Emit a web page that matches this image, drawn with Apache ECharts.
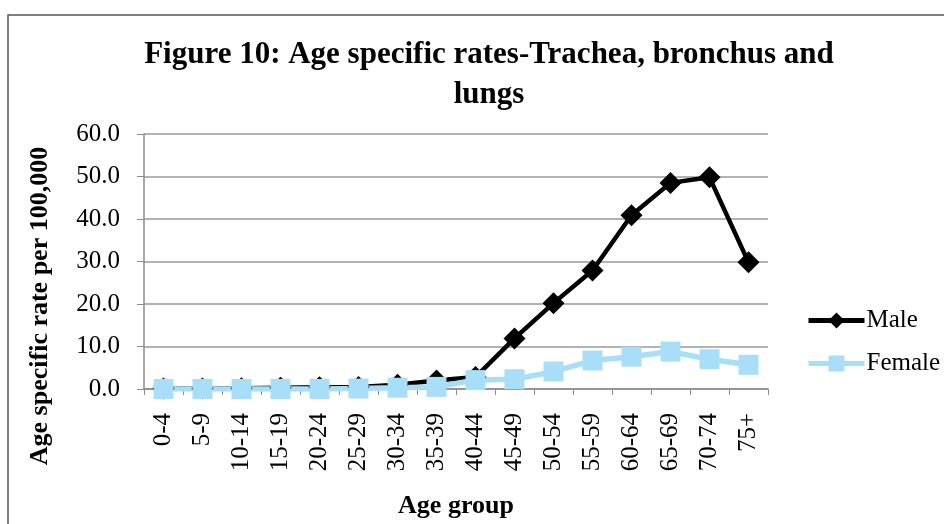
<!DOCTYPE html>
<html>
<head>
<meta charset="utf-8">
<script src="https://cdn.jsdelivr.net/npm/echarts@6/dist/echarts.min.js"></script>
<style>
  html, body { margin: 0; padding: 0; background: #fff; }
  #myChart { width: 944px; height: 524px; }
</style>
</head>
<body>
<div id="myChart"></div>
<script>
// age groups on the x axis
var ageGroups = ['0-4', '5-9', '10-14', '15-19', '20-24', '25-29', '30-34', '35-39',
  '40-44', '45-49', '50-54', '55-59', '60-64', '65-69', '70-74', '75+'];
// rates per 100,000
var maleRates = [0.1, 0.1, 0.2, 0.3, 0.4, 0.5, 1.0, 2.0, 2.8, 11.9, 20.2, 27.9, 40.9, 48.5, 49.8, 29.8];
var femaleRates = [0.0, 0.0, 0.0, 0.0, 0.0, 0.1, 0.3, 0.5, 2.1, 2.3, 4.1, 6.7, 7.6, 8.8, 7.0, 5.7];

var serif = '"Liberation Serif", "Times New Roman", serif';

var myChart = echarts.init(document.getElementById('myChart'));
var option = {
  backgroundColor: '#fff',
  animation: false,
  title: {
    text: 'Figure 10: Age specific rates-Trachea, bronchus and\nlungs',
    left: 484,
    top: 30,
    textAlign: 'center',
    textStyle: {
      fontFamily: serif,
      fontWeight: 'bold',
      fontSize: 31,
      lineHeight: 40,
      color: '#000'
    }
  },
  legend: {
    orient: 'vertical',
    left: 801,
    top: 303,
    itemWidth: 56,
    itemHeight: 20,
    itemGap: 18,
    textStyle: { fontFamily: serif, fontSize: 25, color: '#000', padding: [0, 0, 0, -3] },
    data: [
      { name: 'Male', lineStyle: { width: 5 } },
      { name: 'Female', lineStyle: { width: 5 } }
    ]
  },
  // outer frame and y axis title
  graphic: [
    {
      type: 'rect',
      shape: { x: 8, y: 15, width: 1000, height: 600 },
      style: { fill: 'none', stroke: '#555', lineWidth: 1.5 },
      silent: true
    },
    {
      type: 'text',
      x: 40,
      y: 306,
      rotation: Math.PI / 2,
      style: {
        text: 'Age specific rate per 100,000',
        fontFamily: serif,
        fontWeight: 'bold',
        fontSize: 26,
        fill: '#000',
        textAlign: 'center',
        textVerticalAlign: 'middle'
      }
    }
  ],
  grid: {
    left: 144,
    right: 176,
    top: 134,
    bottom: 135,
    containLabel: false,
    outerBoundsMode: 'none'
  },
  xAxis: {
    type: 'category',
    data: ageGroups,
    boundaryGap: true,
    name: 'Age group',
    nameLocation: 'middle',
    nameGap: 104,
    nameTextStyle: { fontFamily: serif, fontWeight: 'bold', fontSize: 26, color: '#000' },
    axisLine: { lineStyle: { color: '#8c8c8c', width: 1.5 } },
    axisTick: { show: true, alignWithLabel: false, length: 6, lineStyle: { color: '#8c8c8c' } },
    axisLabel: {
      rotate: 90,
      margin: 24,
      interval: 0,
      fontFamily: serif,
      fontSize: 25,
      color: '#000'
    },
    splitLine: { show: false }
  },
  yAxis: {
    type: 'value',
    min: 0,
    max: 60,
    interval: 10,
    axisLine: { show: true, lineStyle: { color: '#8c8c8c', width: 1.5 } },
    axisTick: { show: true, inside: false, length: 7, lineStyle: { color: '#8c8c8c' } },
    axisLabel: {
      margin: 24,
      fontFamily: serif,
      fontSize: 25,
      color: '#000',
      formatter: function (v) { return v.toFixed(1); }
    },
    splitLine: { show: true, lineStyle: { color: '#9a9a9a', width: 1.5 } }
  },
  series: [
    {
      name: 'Male',
      type: 'line',
      data: maleRates,
      symbol: 'diamond',
      symbolSize: 22,
      itemStyle: { color: '#000' },
      lineStyle: { color: '#000', width: 4.5 }
    },
    {
      name: 'Female',
      type: 'line',
      data: femaleRates,
      symbol: 'rect',
      symbolSize: 20,
      itemStyle: { color: '#a9def9' },
      lineStyle: { color: '#a9def9', width: 5.5 }
    }
  ]
};
myChart.setOption(option);
</script>
</body>
</html>
